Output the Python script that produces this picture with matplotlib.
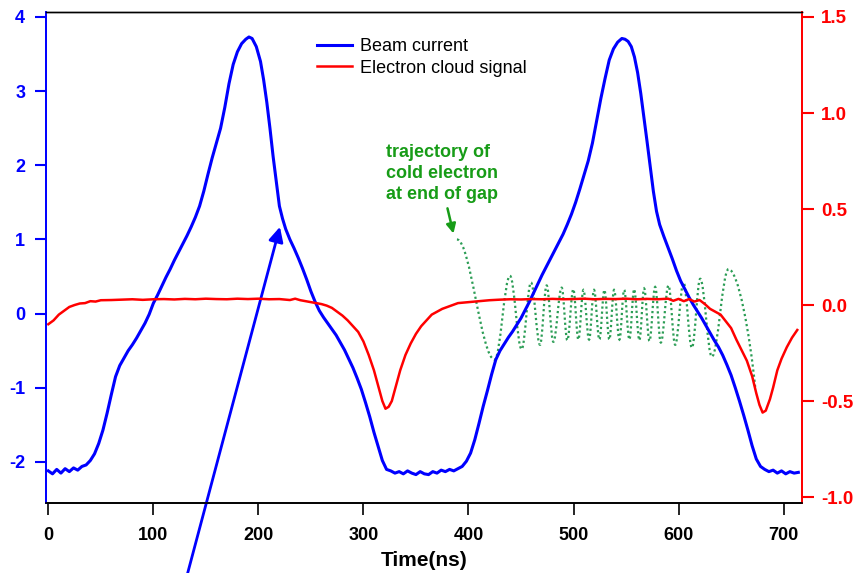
import matplotlib
matplotlib.use("Agg")
import matplotlib.pyplot as plt
from matplotlib.path import Path
from matplotlib.patches import PathPatch

plt.rcParams['font.family'] = ['Liberation Sans', 'DejaVu Sans']
plt.rcParams['axes.unicode_minus'] = False

# beam current, left axis
beam_t = [0, 4, 8, 12, 16, 20, 24, 28, 32, 36, 40, 44, 48, 52, 56, 60, 64, 68, 72, 76,
          80, 84, 88, 92, 96, 100, 104, 108, 112, 116, 120, 124, 128, 132, 136, 140, 144, 148, 152, 156,
          160, 164, 168, 172, 176, 180, 184, 188, 191, 194, 198, 202, 205, 208, 211, 214, 217, 220, 223, 226,
          230, 234, 238, 242, 246, 250, 254, 258, 262, 266, 270, 274, 278, 282, 286, 290, 294, 298, 302, 306,
          310, 314, 318, 322, 326, 330, 334, 338, 342, 346, 350, 354, 358, 362, 366, 370, 374, 378, 382, 386,
          390, 394, 398, 402, 406, 410, 414, 418, 422, 426, 430, 434, 438, 442, 446, 450, 454, 458, 462, 466,
          470, 474, 478, 482, 486, 490, 494, 498, 502, 506, 510, 514, 518, 522, 526, 530, 534, 538, 542, 546,
          549, 552, 555, 558, 561, 564, 567, 570, 573, 576, 579, 582, 586, 590, 594, 598, 602, 606, 610, 614,
          618, 622, 626, 630, 634, 638, 642, 646, 650, 654, 658, 662, 666, 670, 674, 678, 682, 686, 690, 694,
          698, 702, 706, 710, 714]
beam_v = [-2.12, -2.16, -2.10, -2.15, -2.09, -2.13, -2.08, -2.11, -2.06, -2.04, -1.98, -1.89, -1.75, -1.57, -1.34, -1.09, -0.85, -0.70, -0.60, -0.50,
          -0.42, -0.33, -0.23, -0.13, -0.01, 0.14, 0.25, 0.37, 0.49, 0.60, 0.72, 0.83, 0.94, 1.05, 1.17, 1.30, 1.45, 1.65, 1.88, 2.10,
          2.30, 2.50, 2.78, 3.10, 3.36, 3.53, 3.64, 3.70, 3.73, 3.71, 3.60, 3.40, 3.15, 2.85, 2.50, 2.12, 1.78, 1.45, 1.28, 1.14,
          1.00, 0.88, 0.75, 0.61, 0.46, 0.30, 0.16, 0.04, -0.05, -0.13, -0.21, -0.29, -0.39, -0.49, -0.61, -0.73, -0.87, -1.02, -1.20, -1.39,
          -1.60, -1.79, -1.98, -2.10, -2.12, -2.15, -2.13, -2.16, -2.12, -2.15, -2.17, -2.13, -2.16, -2.17, -2.13, -2.15, -2.11, -2.13, -2.10, -2.12,
          -2.09, -2.06, -1.99, -1.88, -1.70, -1.48, -1.25, -1.04, -0.82, -0.62, -0.50, -0.41, -0.32, -0.24, -0.15, -0.06, 0.05, 0.16, 0.28, 0.40,
          0.52, 0.63, 0.74, 0.85, 0.96, 1.07, 1.20, 1.34, 1.50, 1.68, 1.87, 2.06, 2.30, 2.60, 2.90, 3.17, 3.42, 3.57, 3.66, 3.71,
          3.70, 3.67, 3.60, 3.46, 3.25, 2.97, 2.65, 2.32, 1.98, 1.65, 1.38, 1.20, 1.04, 0.89, 0.74, 0.58, 0.44, 0.33, 0.22, 0.12,
          0.03, -0.06, -0.16, -0.26, -0.36, -0.45, -0.56, -0.69, -0.83, -1.00, -1.18, -1.37, -1.57, -1.78, -1.96, -2.06, -2.10, -2.13, -2.11, -2.15,
          -2.12, -2.16, -2.13, -2.15, -2.14]

# electron cloud signal, right axis
cloud_t = [0, 5, 10, 15, 20, 25, 30, 35, 40, 45, 50, 60, 70, 80, 90, 100, 110, 120, 130, 140,
           150, 160, 170, 180, 190, 200, 210, 220, 230, 235, 240, 245, 250, 255, 260, 265, 270, 275, 280, 285,
           290, 295, 300, 305, 310, 315, 318, 321, 324, 327, 331, 335, 340, 345, 350, 355, 360, 365, 370, 375,
           380, 390, 400, 410, 420, 430, 440, 450, 460, 470, 480, 490, 500, 510, 520, 530, 540, 550, 560, 570,
           580, 590, 595, 600, 605, 610, 615, 620, 625, 630, 635, 640, 645, 650, 655, 660, 665, 670, 674, 677,
           680, 683, 687, 690, 694, 698, 703, 708, 713]
cloud_v = [-0.10, -0.08, -0.05, -0.03, -0.01, 0.00, 0.008, 0.010, 0.020, 0.018, 0.025, 0.026, 0.028, 0.030, 0.027, 0.030, 0.031, 0.029, 0.032, 0.030,
           0.033, 0.031, 0.030, 0.033, 0.031, 0.033, 0.030, 0.031, 0.026, 0.033, 0.025, 0.020, 0.015, 0.010, 0.005, -0.003, -0.015, -0.035, -0.055, -0.08,
           -0.11, -0.14, -0.19, -0.26, -0.34, -0.44, -0.50, -0.54, -0.53, -0.50, -0.42, -0.34, -0.26, -0.20, -0.15, -0.11, -0.08, -0.05, -0.035, -0.02,
           -0.01, 0.01, 0.015, 0.020, 0.025, 0.028, 0.030, 0.029, 0.031, 0.030, 0.032, 0.030, 0.031, 0.033, 0.030, 0.032, 0.031, 0.033, 0.030, 0.032,
           0.030, 0.033, 0.022, 0.032, 0.020, 0.031, 0.018, 0.026, 0.005, -0.020, -0.035, -0.050, -0.085, -0.12, -0.18, -0.235, -0.29, -0.37, -0.46, -0.52,
           -0.56, -0.55, -0.49, -0.43, -0.34, -0.28, -0.22, -0.17, -0.13]

# turning points of the cold electron trajectory (left axis units)
traj_t = [389, 425, 439.5, 450.6, 459.5, 468.1, 474.4, 480.8, 488.7, 494.1, 499.8, 504.6, 509.4, 514.8, 519.5, 524.6, 529.4, 534.1,
          538.6, 543.7, 548.2, 553.2, 557.7, 562.7, 567.2, 572.3, 577.7, 583.1, 590.4, 596.8, 604.7, 612.7, 620.6, 631.7, 647.5, 673]
traj_v = [1.0, -0.62, 0.51, -0.48, 0.42, -0.42, 0.38, -0.38, 0.35, -0.36, 0.33, -0.35, 0.32, -0.35, 0.32, -0.35, 0.32, -0.35,
          0.32, -0.35, 0.32, -0.35, 0.33, -0.36, 0.34, -0.37, 0.36, -0.39, 0.38, -0.42, 0.42, -0.46, 0.47, -0.58, 0.60, -1.0]

x_ticks = [0, 100, 200, 300, 400, 500, 600, 700]
left_ticks = [-2, -1, 0, 1, 2, 3, 4]
right_ticks = [-1.0, -0.5, 0.0, 0.5, 1.0, 1.5]

BLUE = '#0000ff'
RED = '#ff0000'
GREEN = '#179c17'
DOTS = '#2b9d55'

fig = plt.figure(figsize=(8.54, 5.73), dpi=100)
ax = fig.add_axes([46 / 854, 70 / 573, 756 / 854, 491 / 573])
ax2 = ax.twinx()

# trajectory drawn as smooth half-swings between the turning points
k = 0.364
verts = [(traj_t[0], traj_v[0])]
codes = [Path.MOVETO]
for i in range(1, len(traj_t)):
    x0, y0 = traj_t[i - 1], traj_v[i - 1]
    x1, y1 = traj_t[i], traj_v[i]
    dx = x1 - x0
    if i == len(traj_t) - 1:
        c2 = (x1 - 0.2 * dx, y1 + 0.45 * (y0 - y1))
    else:
        c2 = (x1 - k * dx, y1)
    verts += [(x0 + k * dx, y0), c2, (x1, y1)]
    codes += [Path.CURVE4] * 3
ax.add_patch(PathPatch(Path(verts, codes), fill=False, edgecolor=DOTS,
                       lw=1.6, linestyle=(0, (1, 1.3)), zorder=1))

l1, = ax.plot(beam_t, beam_v, color=BLUE, lw=2.2, zorder=2)
l2, = ax2.plot(cloud_t, cloud_v, color=RED, lw=1.8)

ax.set_xlim(-2.2, 717.5)
ax.set_ylim(-2.553, 4.067)
ax2.set_ylim(-1.031, 1.526)

ax.set_xticks(x_ticks)
ax.set_yticks(left_ticks)
ax2.set_yticks(right_ticks)
ax2.set_yticklabels(['%.1f' % v for v in right_ticks])

ax.tick_params(axis='x', direction='out', length=8.6, width=1.2, pad=9,
               labelsize=13, colors='black')
ax.tick_params(axis='y', direction='out', length=8, width=1.5, pad=7,
               labelsize=13, colors=BLUE)
ax2.tick_params(axis='y', direction='out', length=8.6, width=1.5, pad=5,
                labelsize=13.5, colors=RED)
for lab in ax.get_xticklabels() + ax.get_yticklabels() + ax2.get_yticklabels():
    lab.set_fontweight('bold')

for a in (ax, ax2):
    a.spines['left'].set_color(BLUE)
    a.spines['right'].set_color(RED)
    a.spines['bottom'].set_color('black')
    a.spines['top'].set_color('black')
    a.spines['left'].set_linewidth(1.3)
    a.spines['right'].set_linewidth(1.3)
    a.spines['bottom'].set_linewidth(1.2)
    a.spines['top'].set_linewidth(1.0)

ax.set_xlabel('Time(ns)', fontsize=15, fontweight='bold', labelpad=5)

ax2.legend([l1, l2], ['Beam current', 'Electron cloud signal'],
           loc='upper left', bbox_to_anchor=(0.3585, 0.947), frameon=False,
           fontsize=13, handlelength=1.95, handletextpad=0.45,
           labelspacing=0.26, borderpad=0, borderaxespad=0)

ax.text(321.6, 1.89, 'trajectory of\ncold electron\nat end of gap', color=GREEN,
        fontsize=13, fontweight='bold', ha='left', va='center', linespacing=1.28)
ax.annotate('', xy=(385.7, 1.08), xytext=(380, 1.42),
            arrowprops=dict(arrowstyle='-|>', color=GREEN, lw=1.8,
                            mutation_scale=14, shrinkA=0, shrinkB=0))
ax.annotate('', xy=(220.5, 1.17), xytext=(131.5, -3.56),
            arrowprops=dict(arrowstyle='-|>', color=BLUE, lw=2,
                            mutation_scale=22, shrinkA=0, shrinkB=0),
            annotation_clip=False)

fig.savefig('out.png', dpi=100)
